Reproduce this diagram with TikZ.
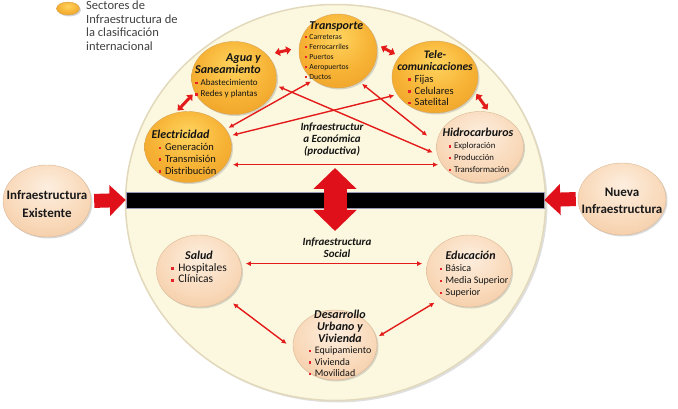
\documentclass[tikz,border=0pt]{standalone}
\usepackage{fontspec}
\setmainfont{Carlito}
\usepackage{xcolor}
\usepackage{tikz}
\usetikzlibrary{arrows.meta,positioning,shapes.geometric,shadows}
\definecolor{creamfill}{HTML}{FCF8DF}
\definecolor{creamline}{HTML}{E2D9BC}
\definecolor{goldhi}{HTML}{FFD45E}
\definecolor{goldmid}{HTML}{F7B437}
\definecolor{goldlo}{HTML}{EC9D22}
\definecolor{goldedge}{HTML}{C47E12}
\definecolor{peachhi}{HTML}{FDEEDF}
\definecolor{peachmid}{HTML}{F9DABB}
\definecolor{peachlo}{HTML}{EFC197}
\definecolor{peachedge}{HTML}{C99869}
\definecolor{arrowred}{HTML}{E31B1B}
\definecolor{blockred}{HTML}{E0101A}
\definecolor{bulletred}{HTML}{E8202A}
\definecolor{legendgray}{HTML}{404040}
\pgfdeclareradialshading{goldball}{\pgfpoint{0bp}{10bp}}{color(0bp)=(goldhi); color(20bp)=(goldmid); color(40bp)=(goldlo); color(52bp)=(goldlo); color(62bp)=(goldedge); color(75bp)=(goldedge)}
\pgfdeclareradialshading{peachball}{\pgfpoint{0bp}{10bp}}{color(0bp)=(peachhi); color(22bp)=(peachmid); color(44bp)=(peachlo); color(54bp)=(peachlo); color(62bp)=(peachedge); color(75bp)=(peachedge)}
\newcommand{\sectbullet}{\textcolor{bulletred}{\rule[0.25ex]{0.55ex}{0.55ex}}\hspace{0.35em}}
\newcommand{\secttitle}{\fontsize{12}{12}\selectfont\bfseries\itshape}

\begin{document}
\begin{tikzpicture}[x=1pt, y=-1pt,
  disc/.style={
    ellipse, fill=creamfill, draw=creamline, line width=1.5pt,
    minimum width=420pt, minimum height=396pt,
    drop shadow={opacity=0.25, shadow xshift=2pt, shadow yshift=-2pt}
  },
  goldsect/.style={
    ellipse, shading=goldball, draw=goldedge!70, line width=0.4pt,
    minimum width=86pt, minimum height=72pt, inner sep=0pt,
    drop shadow={opacity=0.3, shadow xshift=1.5pt, shadow yshift=-1.5pt}
  },
  peachsect/.style={
    ellipse, shading=peachball, draw=peachedge!70, line width=0.4pt,
    minimum width=86pt, minimum height=72pt, inner sep=0pt,
    drop shadow={opacity=0.3, shadow xshift=1.5pt, shadow yshift=-1.5pt}
  },
  blackbar/.style={
    rectangle, fill=black, draw=black!70!blue!40, line width=0.6pt,
    minimum width=418pt, minimum height=16pt, inner sep=0pt
  },
  sectxt/.style={inner sep=0pt, text=black!92},
  bigtxt/.style={
    align=center, inner sep=0pt, text=black!90,
    font=\fontsize{13}{17.5}\selectfont\bfseries
  },
  zonetxt/.style={
    align=center, inner sep=0pt, text=black!92,
    font=\fontsize{11}{12}\selectfont\bfseries\itshape
  },
  legendtxt/.style={
    align=left, inner sep=0pt, text=legendgray,
    font=\fontsize{12.5}{13.7}\selectfont
  },
  bigarrow/.style={line width=14pt, blockred, -{Triangle[length=16pt,width=30pt]}},
  vbiarrow/.style={line width=23pt, blockred,
    {Triangle[length=21pt,width=42pt]}-{Triangle[length=21pt,width=42pt]}},
  link/.style={arrowred, line width=1.4pt,
    {Latex[length=5pt,width=5pt]}-{Latex[length=5pt,width=5pt]},
    shorten <=3pt, shorten >=3pt},
  fatlink/.style={arrowred, line width=3pt,
    {Triangle[length=5pt,width=8pt]}-{Triangle[length=5pt,width=8pt]}}
]
\useasboundingbox (0,0) rectangle (678,409);

\node[disc] (disc) at (335.5,202.5) {};
\node[blackbar] (bar) at (335,200) {};

\node[goldsect, minimum width=23pt, minimum height=13pt,
  drop shadow={opacity=0.2, shadow xshift=0.6pt, shadow yshift=-0.6pt}] (legend) at (68,8.5) {};
\node[legendtxt, anchor=north west] (legendlbl) at (86,0.5) {Sectores de\\Infraestructura de\\la clasificación\\internacional};

\node[peachsect, minimum width=88pt] (exist) at (47,201) {};
\node[bigtxt] (existtxt) at ([yshift=-3pt]exist) {Infraestructura\\Existente};
\node[peachsect, minimum width=88pt] (nueva) at (622,199) {};
\node[bigtxt] (nuevatxt) at ([yshift=-2pt]nueva) {Nueva\\Infraestructura};

\node[goldsect, minimum width=85pt, minimum height=73pt] (agua) at (234,78) {};
\node[goldsect, minimum width=78pt, minimum height=74pt] (transp) at (338,51) {};
\node[goldsect] (tele) at (435,77) {};
\node[goldsect, minimum width=87pt, minimum height=71pt] (elec) at (188,147) {};
\node[peachsect, minimum width=87pt, minimum height=71pt] (hidro) at (480,147) {};
\node[peachsect, minimum width=85pt] (salud) at (199,271) {};
\node[peachsect, minimum width=85pt] (educ) at (469,271) {};
\node[peachsect, minimum width=84pt, minimum height=70pt] (desa) at (335,345) {};

\node[sectxt, font=\fontsize{9}{11.5}\selectfont] (aguatxt) at (228,77) {\begin{tabular}{@{}l@{}}
\multicolumn{1}{@{}r@{}}{\secttitle Agua y}\\
\multicolumn{1}{@{}r@{}}{\secttitle Saneamiento}\\
\sectbullet Abastecimiento\\
\sectbullet Redes y plantas
\end{tabular}};
\node[sectxt, font=\fontsize{7.7}{10}\selectfont] (transptxt) at (334,52) {\begin{tabular}{@{}l@{}}
\hspace{4.5pt}{\secttitle Transporte}\\
\sectbullet Carreteras\\
\sectbullet Ferrocarriles\\
\sectbullet Puertos\\
\sectbullet Aeropuertos\\
\sectbullet Ductos
\end{tabular}};
\node[sectxt, font=\fontsize{10.5}{11.7}\selectfont] (teletxt) at (435,80) {\begin{tabular}{@{}l@{}}
\multicolumn{1}{@{}c@{}}{\fontsize{11.5}{12}\selectfont\bfseries\itshape Tele-}\\
\multicolumn{1}{@{}c@{}}{\fontsize{11.5}{12}\selectfont\bfseries\itshape comunicaciones}\\
\hspace{11pt}\sectbullet Fijas\\
\hspace{11pt}\sectbullet Celulares\\
\hspace{11pt}\sectbullet Satelital
\end{tabular}};
\node[sectxt, font=\fontsize{10.5}{11.7}\selectfont] (electxt) at (184,154) {\begin{tabular}{@{}l@{}}
{\secttitle Electricidad}\\
\hspace{7pt}\sectbullet Generación\\
\hspace{7pt}\sectbullet Transmisión\\
\hspace{7pt}\sectbullet Distribución
\end{tabular}};
\node[sectxt, font=\fontsize{8.8}{11.7}\selectfont] (hidrotxt) at (478,152) {\begin{tabular}{@{}l@{}}
{\secttitle Hidrocarburos}\\
\hspace{6pt}\sectbullet Exploración\\
\hspace{6pt}\sectbullet Producción\\
\hspace{6pt}\sectbullet Transformación
\end{tabular}};
\node[sectxt, font=\fontsize{11.5}{11.5}\selectfont] (saludtxt) at (199,269) {\begin{tabular}{@{}l@{}}
\multicolumn{1}{@{}c@{}}{\secttitle Salud}\\
\sectbullet Hospitales\\
\sectbullet Clínicas
\end{tabular}};
\node[sectxt, font=\fontsize{10}{12}\selectfont] (eductxt) at (474,275) {\begin{tabular}{@{}l@{}}
\hspace{6pt}{\secttitle Educación}\\
\sectbullet Básica\\
\sectbullet Media Superior\\
\sectbullet Superior
\end{tabular}};
\node[sectxt, font=\fontsize{10}{11.5}\selectfont] (desatxt) at (340,345) {\begin{tabular}{@{}l@{}}
\multicolumn{1}{@{}c@{}}{\secttitle Desarrollo}\\
\multicolumn{1}{@{}c@{}}{\secttitle Urbano y}\\
\multicolumn{1}{@{}c@{}}{\secttitle Vivienda}\\
\sectbullet Equipamiento\\
\sectbullet Vivienda\\
\sectbullet Movilidad
\end{tabular}};

\node[zonetxt] (econlbl) at (332,140) {Infraestructur\\a Económica\\(productiva)};
\node[zonetxt] (soclbl) at (337,248) {Infraestructura\\Social};

\draw[bigarrow, shorten <=3pt] (exist.east) -- (bar.west);
\draw[bigarrow, shorten <=2pt] (nueva.west) -- (bar.east);
\coordinate (uptip) at (335,168);
\coordinate (downtip) at (335,231);
\draw[vbiarrow] (uptip) -- (downtip);

\draw[fatlink, shorten <=8pt, shorten >=8pt] (agua.35) -- (transp.175);
\draw[fatlink, shorten <=5pt, shorten >=5pt] (transp.10) -- (tele.150);
\draw[fatlink, shorten <=3pt, shorten >=3pt] (agua.200) -- (elec.110);
\draw[fatlink, shorten <=3pt, shorten >=3pt] (tele.340) -- (hidro.75);

\draw[link] (transp.230) -- (elec.25);
\draw[link] (tele.205) -- (elec.15);
\draw[link, shorten >=5pt] (agua.-10) -- (hidro.190);
\draw[link, shorten >=12pt] (transp.-55) -- (hidro.175);
\draw[link, shorten <=7pt, shorten >=4pt] (elec.-25) -- (hidro.205);
\draw[link, shorten <=5pt, shorten >=5pt] (salud.10) -- (educ.170);
\draw[link, shorten <=8pt, shorten >=8pt] (salud.-45) -- (desa.185);
\draw[link, shorten >=8pt] (desa.10) -- (educ.225);
\end{tikzpicture}
\end{document}
